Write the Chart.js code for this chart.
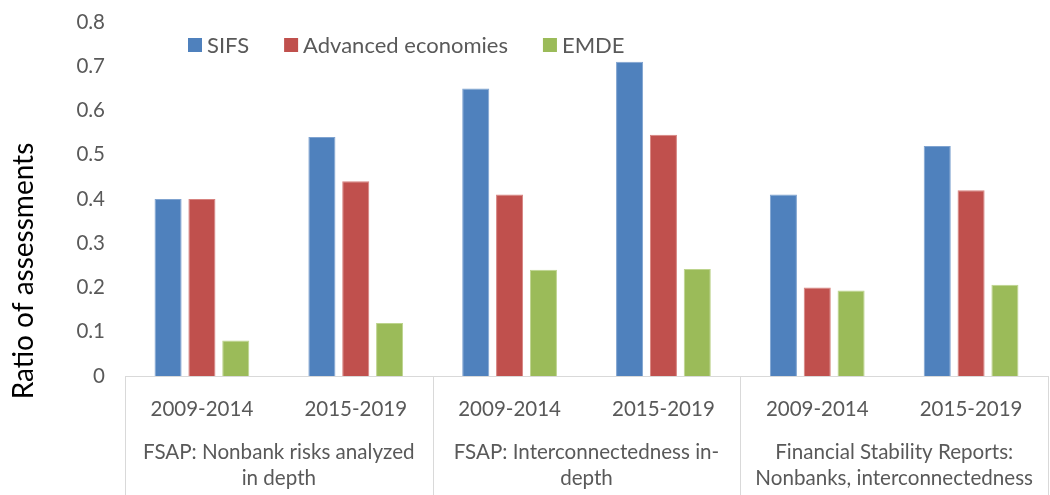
<!DOCTYPE html>
<html><head><meta charset="utf-8">
<script src="https://cdn.jsdelivr.net/npm/chart.js@4/dist/chart.umd.min.js"></script>
<style>html,body{margin:0;padding:0;background:#fff}#wrap{width:1050px;height:495px;position:relative}</style>
</head><body><div id="wrap"><canvas id="c"></canvas></div>
<script>
const categories = ['2009-2014','2015-2019','2009-2014','2015-2019','2009-2014','2015-2019'];
const groupLabels = [
  ['FSAP: Nonbank risks analyzed','in depth'],
  ['FSAP: Interconnectedness in-','depth'],
  ['Financial Stability Reports:','Nonbanks, interconnectedness']
];
const groupSizes = [2,2,2];
const seriesNames = ['SIFS','Advanced economies','EMDE'];
const sifs = [0.40,0.54,0.65,0.71,0.41,0.52];
const advanced = [0.40,0.44,0.41,0.545,0.20,0.42];
const emde = [0.08,0.12,0.24,0.242,0.193,0.206];
const yTicksMax = 0.8, yStep = 0.1;
const yTitle = 'Ratio of assessments';

const FONT = 'Lato';
const colors = ['#4F81BD','#C0504D','#9BBB59'];
const borders = ['#7FA3D0','#D7827F','#BDD48D'];

const groupPlugin = {
  id:'groupPlugin',
  afterDraw(chart){
    const ctx = chart.ctx, xs = chart.scales.x;
    const n = categories.length, w = (xs.right - xs.left)/n;
    ctx.save();
    ctx.strokeStyle = '#D9D9D9'; ctx.lineWidth = 1;
    let idx = 0;
    const bounds = [0];
    groupSizes.forEach(s=>{ idx += s; bounds.push(idx); });
    bounds.forEach(b=>{
      const x = Math.round(xs.left + b*w) + 0.5;
      ctx.beginPath(); ctx.moveTo(x, xs.top); ctx.lineTo(x, chart.height); ctx.stroke();
    });
    ctx.fillStyle = '#595959';
    ctx.font = '20.6px ' + FONT;
    ctx.textAlign = 'center'; ctx.textBaseline = 'middle';
    groupLabels.forEach((lines,g)=>{
      const cx = xs.left + (bounds[g]+bounds[g+1])/2*w;
      lines.forEach((t,k)=> ctx.fillText(t, cx, 452 + k*26));
    });
    // legend
    ctx.font = '22px ' + FONT;
    let x = 188; const yc = 45;
    ctx.textAlign = 'left';
    chart.data.datasets.forEach((ds,i)=>{
      ctx.fillStyle = ds.backgroundColor;
      ctx.fillRect(x, yc-7, 14, 14);
      ctx.fillStyle = '#595959';
      ctx.fillText(ds.label, x+19, yc+1);
      x += 19 + ctx.measureText(ds.label).width + 35;
    });
    // y title
    ctx.save();
    ctx.translate(24, 271);
    ctx.rotate(-Math.PI/2);
    ctx.textAlign = 'center';
    ctx.fillStyle = '#000';
    ctx.font = '28px ' + FONT;
    ctx.fillText(yTitle, 0, 0);
    ctx.restore();
    ctx.restore();
  }
};

new Chart(document.getElementById('c'), {
  type:'bar',
  data:{
    labels: categories,
    datasets:[
      {label:seriesNames[0], data:sifs, backgroundColor:colors[0], borderColor:borders[0], borderWidth:1},
      {label:seriesNames[1], data:advanced, backgroundColor:colors[1], borderColor:borders[1], borderWidth:1},
      {label:seriesNames[2], data:emde, backgroundColor:colors[2], borderColor:borders[2], borderWidth:1}
    ]
  },
  options:{
    responsive:true, maintainAspectRatio:false, animation:false,
    layout:{padding:{top:22,right:2,left:0,bottom:0}},
    datasets:{bar:{categoryPercentage:0.66, barPercentage:0.8}},
    plugins:{legend:{display:false}, tooltip:{enabled:false}},
    scales:{
      x:{
        grid:{display:false, drawTicks:false},
        border:{display:true, color:'#D9D9D9'},
        ticks:{color:'#595959', font:{family:FONT, size:20.5}, padding:21, maxRotation:0, autoSkip:false},
        afterFit(s){ s.height = 119; }
      },
      y:{
        min:0, max:yTicksMax,
        grid:{display:false, drawTicks:false},
        border:{display:false},
        ticks:{stepSize:yStep, color:'#595959', font:{family:FONT, size:20.5}, padding:20,
          callback:v=>String(+v.toFixed(1))},
        title:{display:false},
        afterFit(s){ s.width = 125; s.paddingTop = 0; s.paddingBottom = 0; }
      }
    }
  },
  plugins:[groupPlugin]
});
</script></body></html>
